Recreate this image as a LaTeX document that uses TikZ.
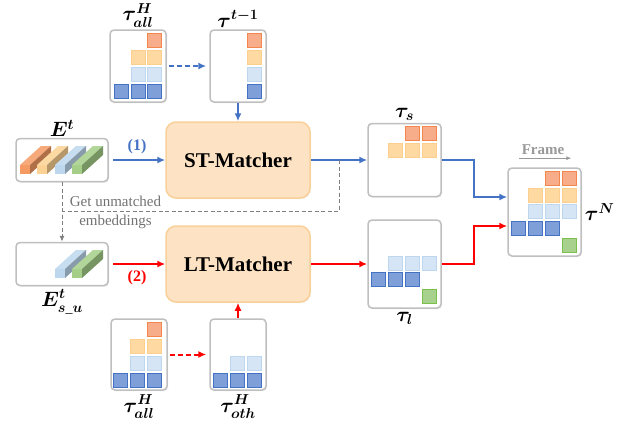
\documentclass[tikz,border=0pt]{standalone}
\usepackage{fontspec}
\setmainfont{Liberation Serif}
\usepackage{amsmath}
\usetikzlibrary{
  arrows.meta,
  positioning,
  calc,
  shadows
}
\definecolor{tkBlue}{HTML}{4472C4}
\definecolor{tkRed}{HTML}{FF0000}
\definecolor{tkGray}{HTML}{7F7F7F}
\definecolor{tkBorder}{HTML}{BFBFBF}
\definecolor{tkMatch}{HTML}{FDE3C3}
\definecolor{tkMatchLine}{HTML}{F8D09A}
\definecolor{tkOr}{HTML}{F8AD8A}
\definecolor{tkOrLine}{HTML}{F4874D}
\definecolor{tkYel}{HTML}{FED9A2}
\definecolor{tkYelLine}{HTML}{FCCF8E}
\definecolor{tkLb}{HTML}{D5E5F5}
\definecolor{tkLbLine}{HTML}{BDD7EE}
\definecolor{tkDb}{HTML}{7F9FD9}
\definecolor{tkDbLine}{HTML}{4472C4}
\definecolor{tkGr}{HTML}{A9D18E}
\definecolor{tkGrLine}{HTML}{7CC04C}
\definecolor{tkBarOr}{HTML}{F49A62}
\definecolor{tkBarYel}{HTML}{FBD293}
\definecolor{tkBarLb}{HTML}{BDD7EE}
\definecolor{tkBarGr}{HTML}{A5CF88}
\tikzset{
  trkbox/.style={
    draw=tkBorder, line width=1.5pt, rounded corners=4pt, fill=white,
    inner sep=0pt, drop shadow={shadow xshift=1pt, shadow yshift=-1pt, opacity=0.2}
  },
  matcher/.style={
    draw=tkMatchLine, line width=1.5pt, rounded corners=10pt, fill=tkMatch,
    minimum width=144pt, minimum height=76pt, inner sep=0pt,
    font=\fontsize{21}{24}\selectfont\bfseries,
    drop shadow={shadow xshift=1pt, shadow yshift=-1pt, opacity=0.15}
  },
  tlabel/.style={font=\fontsize{20}{23}\selectfont\boldmath, inner sep=1pt},
  cellor/.style={fill=tkOr, draw=tkOrLine, line width=0.9pt},
  cellyel/.style={fill=tkYel, draw=tkYelLine, line width=0.9pt},
  celllb/.style={fill=tkLb, draw=tkLbLine, line width=0.9pt},
  celldb/.style={fill=tkDb, draw=tkDbLine, line width=0.9pt},
  cellgr/.style={fill=tkGr, draw=tkGrLine, line width=0.9pt},
  stflow/.style={-{Latex[length=8pt, width=7pt]}, line width=2pt, tkBlue},
  ltflow/.style={-{Latex[length=8pt, width=7pt]}, line width=2pt, tkRed},
  hop/.style={dash pattern=on 5pt off 3pt},
  unmatched/.style={line width=1pt, tkGray, dash pattern=on 4pt off 2.5pt},
  steplabel/.style={font=\fontsize{16}{18}\selectfont\bfseries, inner sep=1pt},
  note/.style={font=\fontsize{15}{19.5}\selectfont, text=tkGray!90!black, align=center}
}
% one square of a track grid, top left corner given
\newcommand{\cell}[3]{\draw[#1] (#2+0.5,#3+0.5) rectangle ++(14,14);}
% one embedding bar, front face bottom left corner given
\newcommand{\embbar}[3]{
  \fill[#3] (#1,#2) rectangle ++(10,-9);
  \fill[#3!85!white] (#1,#2-9) -- ++(21,-19) -- ++(10,0) -- ++(-21,19) -- cycle;
  \fill[#3!72!black] (#1+10,#2-9) -- ++(21,-19) -- ++(0,9) -- ++(-21,19) -- cycle;
}

\begin{document}
\begin{tikzpicture}[x=1pt, y=-1pt]
  \useasboundingbox (0,0) rectangle (623,429);

  % boxes
  \node[trkbox, minimum width=56pt, minimum height=72pt] (allTop) at (138,66) {};
  \node[trkbox, minimum width=56pt, minimum height=72pt] (prev) at (238,66) {};
  \node[matcher] (st) at (238,160) {ST-Matcher};
  \node[matcher] (lt) at (238,264) {LT-Matcher};
  \node[trkbox, minimum width=92pt, minimum height=43pt] (emb) at (62,160) {};
  \node[trkbox, minimum width=92pt, minimum height=43pt] (embsu) at (62,264) {};
  \node[trkbox, minimum width=73pt, minimum height=73pt] (taus) at (404.5,160) {};
  \node[trkbox, minimum width=73pt, minimum height=88pt] (taul) at (404.5,264) {};
  \node[trkbox, minimum width=73pt, minimum height=88pt] (tauN) at (544.5,212) {};
  \node[trkbox, minimum width=56pt, minimum height=71pt] (allBot) at (139,354.5) {};
  \node[trkbox, minimum width=56pt, minimum height=71pt] (oth) at (238,354.5) {};

  % labels
  \node[tlabel, above=1pt of allTop] {$\tau^{H}_{all}$};
  \node[tlabel, above=1pt of prev] {$\tau^{t-1}$};
  \node[tlabel, above=0pt of emb] {$E^{t}$};
  \node[tlabel, below=2pt of embsu] {$E^{t}_{s\_u}$};
  \node[tlabel, above=1pt of taus] {$\tau_{s}$};
  \node[tlabel, below=2pt of taul] {$\tau_{l}$};
  \node[tlabel, right=2pt of tauN] {$\tau^{N}$};
  \node[tlabel, below=3pt of allBot] {$\tau^{H}_{all}$};
  \node[tlabel, below=3pt of oth] {$\tau^{H}_{oth}$};

  % track cells
  \cell{cellor}{147}{33}
  \cell{cellyel}{131}{50} \cell{cellyel}{147}{50}
  \cell{celllb}{131}{67} \cell{celllb}{147}{67}
  \cell{celldb}{114}{84} \cell{celldb}{131}{84} \cell{celldb}{147}{84}
  \cell{cellor}{247}{33} \cell{cellyel}{247}{50}
  \cell{celllb}{247}{67} \cell{celldb}{247}{84}

  \cell{cellor}{405}{126} \cell{cellor}{422}{126}
  \cell{cellyel}{388}{143} \cell{cellyel}{405}{143} \cell{cellyel}{422}{143}

  \cell{celllb}{388}{256} \cell{celllb}{405}{256} \cell{celllb}{422}{256}
  \cell{celldb}{371}{272} \cell{celldb}{388}{272} \cell{celldb}{405}{272}
  \cell{cellgr}{422}{289}

  \cell{cellor}{545}{171} \cell{cellor}{562}{171}
  \cell{cellyel}{528}{188} \cell{cellyel}{545}{188} \cell{cellyel}{562}{188}
  \cell{celllb}{528}{204} \cell{celllb}{545}{204} \cell{celllb}{562}{204}
  \cell{celldb}{511}{221} \cell{celldb}{528}{221} \cell{celldb}{545}{221}
  \cell{cellgr}{562}{238}

  \cell{cellor}{147}{322}
  \cell{cellyel}{130}{339} \cell{cellyel}{147}{339}
  \cell{celllb}{130}{356} \cell{celllb}{147}{356}
  \cell{celldb}{113}{373} \cell{celldb}{130}{373} \cell{celldb}{147}{373}
  \cell{celllb}{230}{356} \cell{celllb}{247}{356}
  \cell{celldb}{213}{373} \cell{celldb}{230}{373} \cell{celldb}{247}{373}

  % embeddings
  \embbar{20}{174}{tkBarOr}
  \embbar{37}{174}{tkBarYel}
  \embbar{55}{174}{tkBarLb}
  \embbar{72}{174}{tkBarGr}
  \embbar{55}{278}{tkBarLb}
  \embbar{72}{278}{tkBarGr}

  % short-term branch
  \draw[stflow, hop, shorten <=2pt, shorten >=3pt] (allTop) -- (prev);
  \draw[stflow] (prev) -- (st);
  \draw[stflow, shorten <=4pt] (emb) -- node[steplabel, above=4pt, text=tkBlue] {(1)} (st);
  \draw[stflow] (st) -- (taus);
  \draw[stflow] (taus.east) -- ++(32,0) |- ([yshift=15pt]tauN.west);

  % long-term branch
  \draw[ltflow, hop, shorten <=2pt, shorten >=3pt] (allBot) -- (oth);
  \draw[ltflow] (oth) -- (lt);
  \draw[ltflow, shorten <=4pt] (embsu) -- node[steplabel, below=4pt, text=tkRed] {(2)} (lt);
  \draw[ltflow] (lt) -- (taul);
  \draw[ltflow] (taul.east) -- ++(32,0) |- ([yshift=-14pt]tauN.west);

  % unmatched embeddings
  \coordinate (tap) at ($(st.east)!0.5!(taus.west)$);
  \coordinate (join) at (62,211);
  \draw[unmatched] (tap) |- (join);
  \draw[unmatched, -{Latex[length=6pt, width=5pt]}] (emb) -- (embsu);
  \node[note] at (115.5,212.5) {Get unmatched\\embeddings};

  % frame direction
  \node[font=\fontsize{15}{18}\selectfont\bfseries, text=tkBorder!80!black, inner sep=1pt] (frm) at (543,150) {Frame};
  \draw[-{Latex[length=5pt, width=4pt]}, line width=1pt, tkBorder!80!black]
    ([xshift=-2pt, yshift=-2pt]frm.south west) -- ([xshift=6pt, yshift=-2pt]frm.south east);
\end{tikzpicture}
\end{document}
